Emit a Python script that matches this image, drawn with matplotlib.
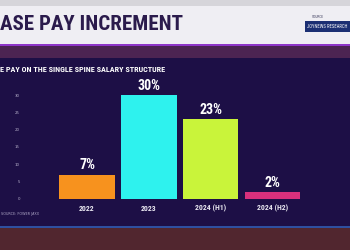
import matplotlib
matplotlib.use("Agg")
import matplotlib.pyplot as plt
from matplotlib.patches import Rectangle
from matplotlib import font_manager

categories = ["2022", "2023", "2024 (H1)", "2024 (H2)"]
values = [7, 30, 23, 2]
value_labels = ["7%", "30%", "23%", "2%"]
bar_colors = ["#F7921E", "#2EF2EE", "#C9F43A", "#D8307C"]
yticks = [0, 5, 10, 15, 20, 25, 30]

title = "ASE PAY INCREMENT"
subtitle = "E PAY ON THE SINGLE SPINE SALARY STRUCTURE"
source = "SOURCE: POWER JAXX"
brand_small = "SOURCE"
brand = "JOYNEWS RESEARCH"

names = {f.name for f in font_manager.fontManager.ttflist}
cond = "DejaVu Sans"
for cand in ["Roboto Condensed", "Liberation Sans Narrow", "Open Sans Condensed"]:
    if cand in names:
        cond = cand
        break

W, H = 350, 250
fig = plt.figure(figsize=(3.5, 2.5), dpi=100)

def frect(x, y, w, h, color, z=-10):
    fig.patches.append(Rectangle((x / W, 1 - (y + h) / H), w / W, h / H,
                                 transform=fig.transFigure, color=color,
                                 zorder=z, lw=0))

# background regions
frect(0, 0, 350, 6, "#D6D5DA")
frect(0, 6, 350, 39, "#EFEEF3")
frect(0, 44, 350, 2, "#8E35C8")
frect(0, 46, 350, 12, "#4C2452")
frect(0, 58, 350, 169, "#1D0F46")
frect(0, 226, 350, 1.5, "#2E4FA0")
frect(0, 227.5, 350, 23, "#51262F")
# brand box
frect(305, 21, 45, 11, "#1B2F73", z=-9)

renderer = fig.canvas.get_renderer()

def fit_text(x, y, s, target_w, size, **kw):
    t = fig.text(x / W, 1 - y / H, s, fontsize=size, fontstretch="condensed",
                 family=cond, **kw)
    w = t.get_window_extent(renderer=renderer).width
    t.set_fontsize(size * target_w / w)
    return t

fit_text(0, 25, title, 183, 17, fontweight="bold", color="#2B1B4C",
         va="center", ha="left")
fig.text(312 / W, 1 - 17 / H, brand_small, fontsize=2.2, color="#333355",
         va="center", ha="left")
fit_text(307, 26.5, brand, 41, 4.2, color="white", va="center", ha="left")
fit_text(0, 69, subtitle, 164, 5.6, fontweight="bold", color="white",
         va="center", ha="left")
fig.text(1 / W, 1 - 214 / H, source, fontsize=2.4, color="#B0A8C8",
         va="center", ha="left")

# axes
ax_left, ax_right = 22, 340
y0_px, ytop_px = 199, 80
ax = fig.add_axes([ax_left / W, 1 - y0_px / H, (ax_right - ax_left) / W,
                   (y0_px - ytop_px) / H])
ax.set_facecolor("none")
px_per_unit = 61.8
c0 = 87
ax.set_xlim((ax_left - c0) / px_per_unit, (ax_right - c0) / px_per_unit)
px_per_val = 104 / 30
ax.set_ylim(0, (y0_px - ytop_px) / px_per_val)

xs = list(range(len(categories)))
ax.bar(xs, values, width=0.9, color=bar_colors, zorder=2)
for x, v, lab in zip(xs, values, value_labels):
    ax.annotate(lab, (x, v), xytext=(0, 1.8), textcoords="offset points",
                ha="center", va="bottom", fontsize=10, fontweight="bold",
                family=cond, fontstretch="condensed", color="white")

ax.set_xticks(xs)
ax.set_xticklabels(categories, fontsize=5.6, fontweight="bold", color="#E8E6F0",
                   family=cond, fontstretch="condensed")
ax.set_yticks(yticks)
ax.set_yticklabels([str(t) for t in yticks], fontsize=2.8, color="#B8B2CC")
ax.tick_params(axis="both", length=0)
ax.tick_params(axis="x", pad=4)
ax.tick_params(axis="y", pad=1.5)
for s in ax.spines.values():
    s.set_visible(False)

fig.savefig("out.png", dpi=100)
